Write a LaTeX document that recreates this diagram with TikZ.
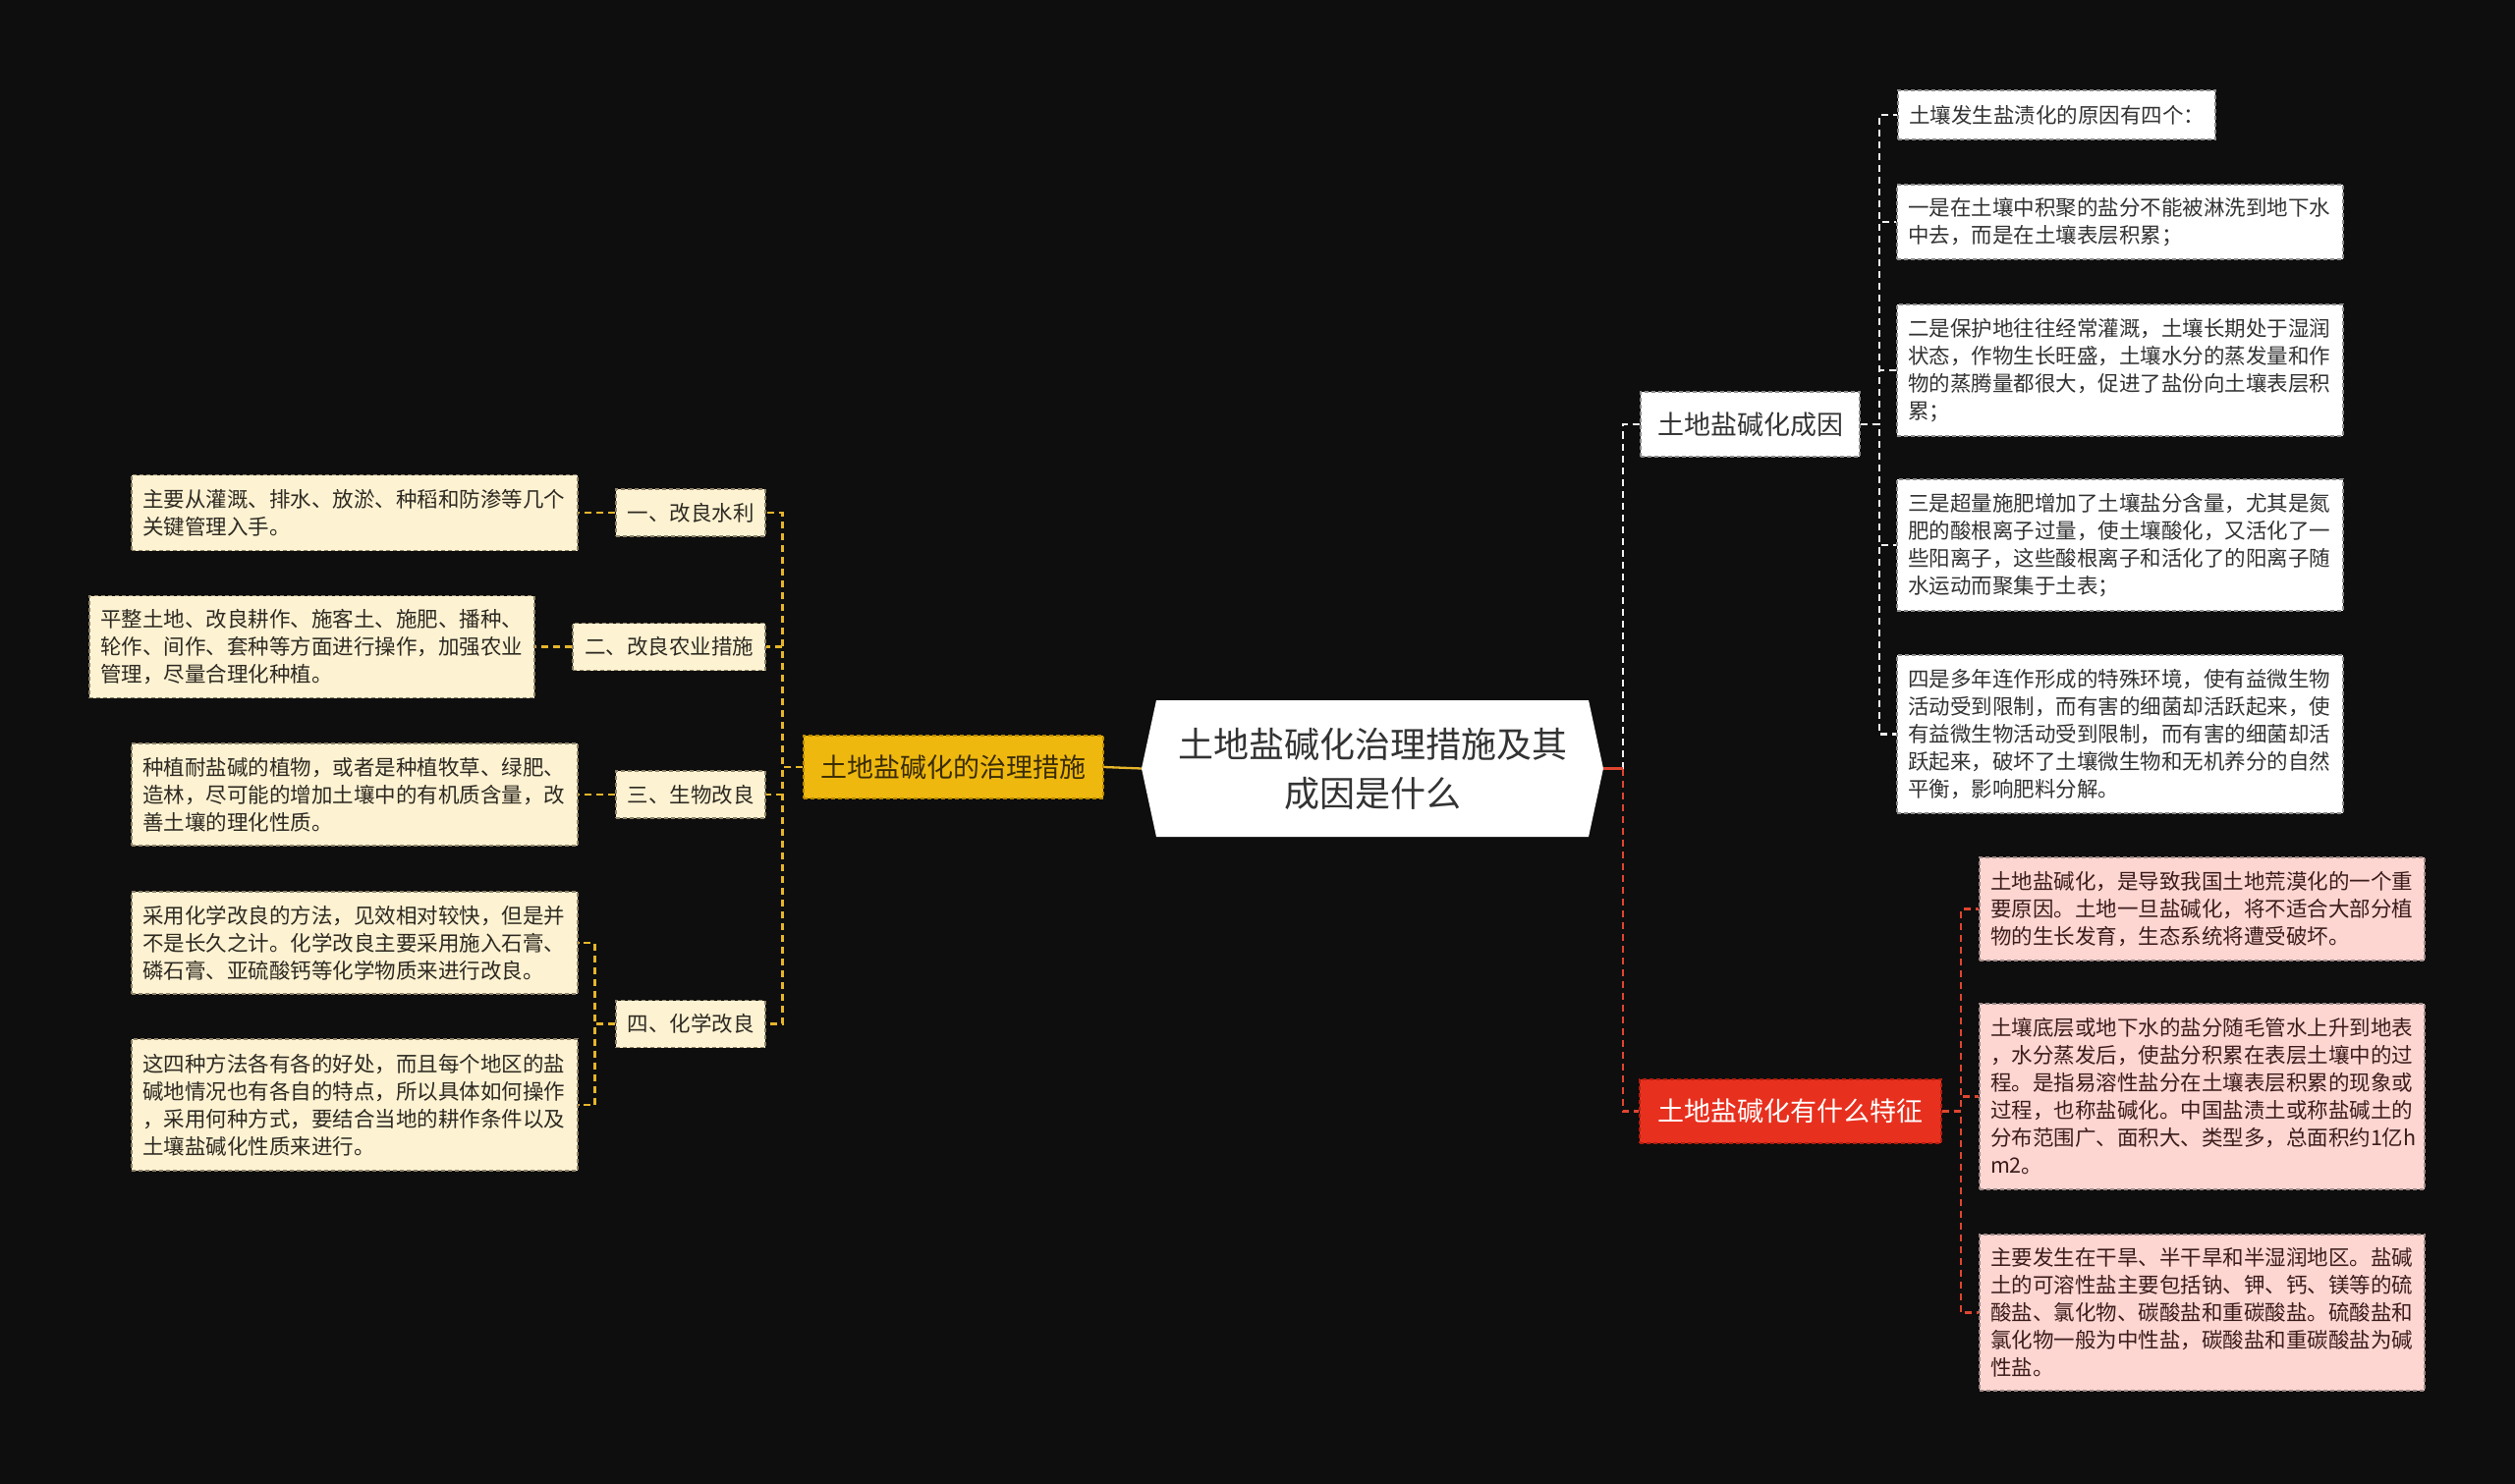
\documentclass[tikz,border=0pt]{standalone}
\usepackage{fontspec}
\setmainfont{Noto Sans CJK SC}
\usetikzlibrary{calc}
\definecolor{bg}{HTML}{0E0E0E}
\definecolor{txtdark}{HTML}{333333}
\definecolor{wborder}{HTML}{8C8C8C}
\definecolor{cream}{HTML}{FDF2D2}
\definecolor{creamborder}{HTML}{8F8266}
\definecolor{creamtxt}{HTML}{2E2A22}
\definecolor{gold}{HTML}{EEB80F}
\definecolor{goldborder}{HTML}{B88A00}
\definecolor{goldtxt}{HTML}{3A2C05}
\definecolor{goldline}{HTML}{E6B52A}
\definecolor{redfill}{HTML}{E8301E}
\definecolor{redborder}{HTML}{B01E10}
\definecolor{redline}{HTML}{E0452F}
\definecolor{pink}{HTML}{FDD5D1}
\definecolor{pinkborder}{HTML}{9E8A88}
\definecolor{pinktxt}{HTML}{3B1D1B}
\definecolor{wline}{HTML}{F0F0F0}
\begin{document}
\begin{tikzpicture}[x=1pt,y=-1pt,
  basebox/.style={rectangle, dash pattern=on 4pt off 3pt, line width=1.3pt,
    inner xsep=11pt, inner ysep=3pt, align=left, anchor=center,
    font=\fontsize{21.5}{28}\selectfont},
  wbox/.style={basebox, fill=white, draw=wborder, text=txtdark},
  cbox/.style={basebox, fill=cream, draw=creamborder, text=creamtxt},
  pbox/.style={basebox, fill=pink, draw=pinkborder, text=pinktxt},
  midbox/.style={rectangle, dash pattern=on 4pt off 3pt, line width=1.3pt,
    inner sep=0pt, align=center, anchor=center, font=\fontsize{27}{32}\selectfont},
  conn/.style={line width=2.3pt, dash pattern=on 7pt off 5pt},
  wconn/.style={conn, draw=wline},
  yconn/.style={conn, draw=goldline},
  rconn/.style={conn, draw=redline}
]
\fill[bg] (0,0) rectangle (2560,1511);
\useasboundingbox (0,0) rectangle (2560,1511);

% central node
\coordinate (cL) at (1162,782.5);
\coordinate (cR) at (1632,782.5);
\fill[white] (1177,713) -- (1617,713) -- (cR) -- (1617,852) -- (1177,852) -- (cL) -- cycle;
\node[font=\fontsize{36}{50}\selectfont, align=center, text=txtdark, inner sep=0pt] (c) at (1397,782.5) {土地盐碱化治理措施及其\\成因是什么};

% main branches
\node[midbox, fill=white, draw=wborder, text=txtdark, minimum width=223pt, minimum height=66pt] (cause) at (1781.5,432) {土地盐碱化成因};
\node[midbox, fill=redfill, draw=redborder, text=white, minimum width=307pt, minimum height=65pt] (feat) at (1822.5,1131.5) {土地盐碱化有什么特征};
\node[midbox, fill=gold, draw=goldborder, text=goldtxt, minimum width=305pt, minimum height=64pt] (yel) at (970.5,781) {土地盐碱化的治理措施};

% cause children
\node[wbox, minimum width=323pt, minimum height=50pt, text width=301pt] (r1) at (2093.5,117) {土壤发生盐渍化的原因有四个：};
\node[wbox, minimum width=454pt, minimum height=76pt, text width=432pt] (r2) at (2158,226) {一是在土壤中积聚的盐分不能被淋洗到地下水\\中去，而是在土壤表层积累；};
\node[wbox, minimum width=454pt, minimum height=134pt, text width=432pt] (r3) at (2158,377) {二是保护地往往经常灌溉，土壤长期处于湿润\\状态，作物生长旺盛，土壤水分的蒸发量和作\\物的蒸腾量都很大，促进了盐份向土壤表层积\\累；};
\node[wbox, minimum width=454pt, minimum height=134pt, text width=432pt] (r4) at (2158,555) {三是超量施肥增加了土壤盐分含量，尤其是氮\\肥的酸根离子过量，使土壤酸化，又活化了一\\些阳离子，这些酸根离子和活化了的阳离子随\\水运动而聚集于土表；};
\node[wbox, minimum width=454pt, minimum height=161pt, text width=432pt] (r5) at (2158,747.5) {四是多年连作形成的特殊环境，使有益微生物\\活动受到限制，而有害的细菌却活跃起来，使\\有益微生物活动受到限制，而有害的细菌却活\\跃起来，破坏了土壤微生物和无机养分的自然\\平衡，影响肥料分解。};

% feature children
\node[pbox, minimum width=453pt, minimum height=105pt, text width=431pt] (p1) at (2241.5,925.5) {土地盐碱化，是导致我国土地荒漠化的一个重\\要原因。土地一旦盐碱化，将不适合大部分植\\物的生长发育，生态系统将遭受破坏。};
\node[pbox, minimum width=453pt, minimum height=189pt, text width=431pt] (p2) at (2241.5,1116.5) {土壤底层或地下水的盐分随毛管水上升到地表\\，水分蒸发后，使盐分积累在表层土壤中的过\\程。是指易溶性盐分在土壤表层积累的现象或\\过程，也称盐碱化。中国盐渍土或称盐碱土的\\分布范围广、面积大、类型多，总面积约1亿h\\m2。};
\node[pbox, minimum width=453pt, minimum height=159pt, text width=431pt] (p3) at (2241.5,1336.5) {主要发生在干旱、半干旱和半湿润地区。盐碱\\土的可溶性盐主要包括钠、钾、钙、镁等的硫\\酸盐、氯化物、碳酸盐和重碳酸盐。硫酸盐和\\氯化物一般为中性盐，碳酸盐和重碳酸盐为碱\\性盐。};

% left children
\node[cbox, align=center, inner xsep=0pt, minimum width=152pt, minimum height=48pt] (l1) at (703,522) {一、改良水利};
\node[cbox, align=center, inner xsep=0pt, minimum width=196pt, minimum height=48pt] (l2) at (681,658.5) {二、改良农业措施};
\node[cbox, align=center, inner xsep=0pt, minimum width=152pt, minimum height=48pt] (l3) at (703,809) {三、生物改良};
\node[cbox, align=center, inner xsep=0pt, minimum width=152pt, minimum height=48pt] (l4) at (703,1042.5) {四、化学改良};

% leaves
\node[cbox, minimum width=454pt, minimum height=77pt, text width=432pt] (f1) at (361,522) {主要从灌溉、排水、放淤、种稻和防渗等几个\\关键管理入手。};
\node[cbox, minimum width=453pt, minimum height=104pt, text width=431pt] (f2) at (317.5,658.5) {平整土地、改良耕作、施客土、施肥、播种、\\轮作、间作、套种等方面进行操作，加强农业\\管理，尽量合理化种植。};
\node[cbox, minimum width=454pt, minimum height=104pt, text width=432pt] (f3) at (361,809) {种植耐盐碱的植物，或者是种植牧草、绿肥、\\造林，尽可能的增加土壤中的有机质含量，改\\善土壤的理化性质。};
\node[cbox, minimum width=454pt, minimum height=104pt, text width=432pt] (f4) at (361,960) {采用化学改良的方法，见效相对较快，但是并\\不是长久之计。化学改良主要采用施入石膏、\\磷石膏、亚硫酸钙等化学物质来进行改良。};
\node[cbox, minimum width=454pt, minimum height=134pt, text width=432pt] (f5) at (361,1125) {这四种方法各有各的好处，而且每个地区的盐\\碱地情况也有各自的特点，所以具体如何操作\\，采用何种方式，要结合当地的耕作条件以及\\土壤盐碱化性质来进行。};

% connectors: right
\coordinate (rj) at ($(cR)+(20,0)$);
\draw[wconn] (rj) |- (cause.west);
\draw[rconn] (rj) |- (feat.west);
\draw[redline, line width=2.3pt] (cR) -- (rj);
\foreach \n in {r1,r2,r3,r4,r5} \draw[wconn] (cause.east) -- ++(19,0) |- (\n.west);
\foreach \n in {p1,p2,p3} \draw[rconn] (feat.east) -- ++(19,0) |- (\n.west);

% connectors: left
\draw[goldline, line width=2.3pt] (cL) -- (yel.east);
\foreach \n in {l1,l2,l3,l4} \draw[yconn] (yel.west) -- ++(-21,0) |- (\n.east);
\draw[yconn] (l1.west) -- (l1.west -| f1.east);
\draw[yconn] (l2.west) -- (l2.west -| f2.east);
\draw[yconn] (l3.west) -- (l3.west -| f3.east);
\draw[yconn] (l4.west) -- ++(-21,0) |- (f4.east);
\draw[yconn] (l4.west) -- ++(-21,0) |- (f5.east);
\end{tikzpicture}
\end{document}
